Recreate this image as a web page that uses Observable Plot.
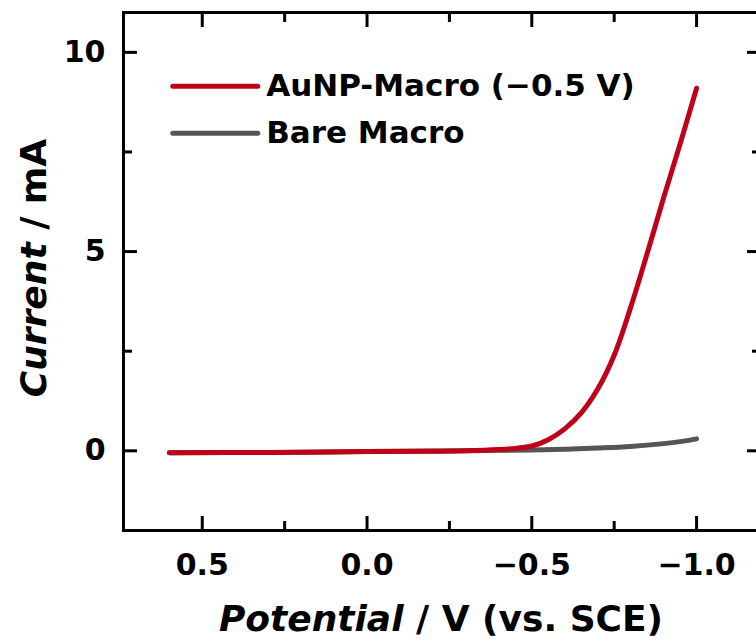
<!DOCTYPE html>
<html><head><meta charset="utf-8">
<script src="https://cdn.jsdelivr.net/npm/d3@7"></script>
<script src="https://cdn.jsdelivr.net/npm/@observablehq/plot@0.6"></script>
<style>
body{margin:0;background:#fff;overflow:hidden;}
</style></head>
<body><div id="chart"></div>
<script>
const seriesNames = ["AuNP-Macro (\u22120.5 V)", "Bare Macro"];
const seriesColors = ["#c0001a", "#555555"];
const potentialRed = [0.6, 0.3, 0.0, -0.2, -0.3, -0.4, -0.45, -0.5, -0.55, -0.6, -0.65, -0.7, -0.75, -0.8, -0.85, -0.9, -0.95, -1.0];
const currentRed   = [-0.05, -0.04, -0.02, -0.01, 0.0, 0.03, 0.06, 0.12, 0.28, 0.55, 0.95, 1.55, 2.4, 3.6, 4.95, 6.35, 7.7, 9.1];
const potentialGray = [0.6, 0.3, 0.0, -0.3, -0.5, -0.6, -0.7, -0.8, -0.9, -0.95, -1.0];
const currentGray   = [-0.05, -0.04, -0.02, 0.0, 0.02, 0.04, 0.07, 0.11, 0.18, 0.23, 0.30];
const xMajor = [0.5, 0.0, -0.5, -1.0];
const xMinor = [0.25, -0.25, -0.75];
const yMajor = [0, 5, 10];
const yMinor = [2.5, 7.5];
const xDomain = [0.739, -1.194];
const yDomain = [-2, 11];

const FONT = "'DejaVu Sans', 'Liberation Sans', sans-serif";
const data = [
  ...potentialRed.map((p,i)=>({s:seriesNames[0], x:p, y:currentRed[i]})),
  ...potentialGray.map((p,i)=>({s:seriesNames[1], x:p, y:currentGray[i]}))
];
const fmt = d => (Math.abs(d)<1e-9 ? "0.0" : d.toFixed(1)).replace("-", "\u2212");
const legendRows = seriesNames.map((n,i)=>({n, c:seriesColors[i], i}));
const legendY = [9.15, 7.97];

const W = 756, H = 642;
const tickOpts = {tickFormat: ()=>"", strokeWidth: 3, label: null};
const chart = Plot.plot({
  width: W, height: H,
  marginLeft: 123, marginTop: 12, marginBottom: 112, marginRight: -4,
  x: {domain: xDomain, range: [123, 760]},
  y: {domain: yDomain, range: [530, 12]},
  style: {fontFamily: FONT, fontWeight: "bold", color: "#000", background: "#fff"},
  marks: [
    Plot.line(data.filter(d=>d.s===seriesNames[1]), {x:"x", y:"y", stroke: seriesColors[1], strokeWidth: 5, curve: "catmull-rom", strokeLinecap:"round"}),
    Plot.line(data.filter(d=>d.s===seriesNames[0]), {x:"x", y:"y", stroke: seriesColors[0], strokeWidth: 5, curve: "catmull-rom", strokeLinecap:"round"}),
    Plot.frame({stroke:"#000", strokeWidth: 3}),
    Plot.axisX(xMajor, {anchor:"bottom", tickSize:-14, ...tickOpts}),
    Plot.axisX(xMinor, {anchor:"bottom", tickSize:-9, ...tickOpts}),
    Plot.axisX(xMajor, {anchor:"top", tickSize:-14, ...tickOpts}),
    Plot.axisX(xMinor, {anchor:"top", tickSize:-9, ...tickOpts}),
    Plot.axisX(xMajor, {anchor:"bottom", tickSize:0, tickPadding: 23, tickFormat: fmt, fontSize: 30, fontWeight:"bold", label:null}),
    Plot.axisY(yMajor, {anchor:"left", tickSize:-14, ...tickOpts}),
    Plot.axisY(yMinor, {anchor:"left", tickSize:-9, ...tickOpts}),
    Plot.axisY(yMajor, {anchor:"right", tickSize:-14, ...tickOpts}),
    Plot.axisY(yMinor, {anchor:"right", tickSize:-9, ...tickOpts}),
    Plot.axisY(yMajor, {anchor:"left", tickSize:0, tickPadding: 18, tickFormat: d=>String(d), fontSize: 30, fontWeight:"bold", label:null}),
    // legend
    Plot.ruleY(legendRows, {y: d => legendY[d.i], x1: 0.588, x2: 0.33, stroke: d=>d.c, strokeWidth: 5, strokeLinecap:"round"}),
    Plot.text(legendRows, {y: d => legendY[d.i], x: 0.306, text: "n", textAnchor:"start", fontSize: 31, fontWeight:"bold", fill:"#000"})
  ]
});
chart.style.overflow = "hidden";
document.getElementById("chart").appendChild(chart);

// Axis titles with mixed italic styling
const svg = d3.select(chart);
const xt = svg.append("text").attr("x", 441).attr("y", 631).attr("text-anchor","middle")
  .attr("font-family", FONT).attr("font-size", 36).attr("font-weight","bold").attr("fill","#000");
xt.append("tspan").attr("font-style","italic").text("Potential");
xt.append("tspan").text(" / V (vs. SCE)");
const yt = svg.append("text").attr("transform","translate(46,268) rotate(-90)").attr("text-anchor","middle")
  .attr("font-family", FONT).attr("font-size", 36).attr("font-weight","bold").attr("fill","#000");
yt.append("tspan").attr("font-style","italic").text("Current");
yt.append("tspan").text(" / mA");
</script></body></html>
